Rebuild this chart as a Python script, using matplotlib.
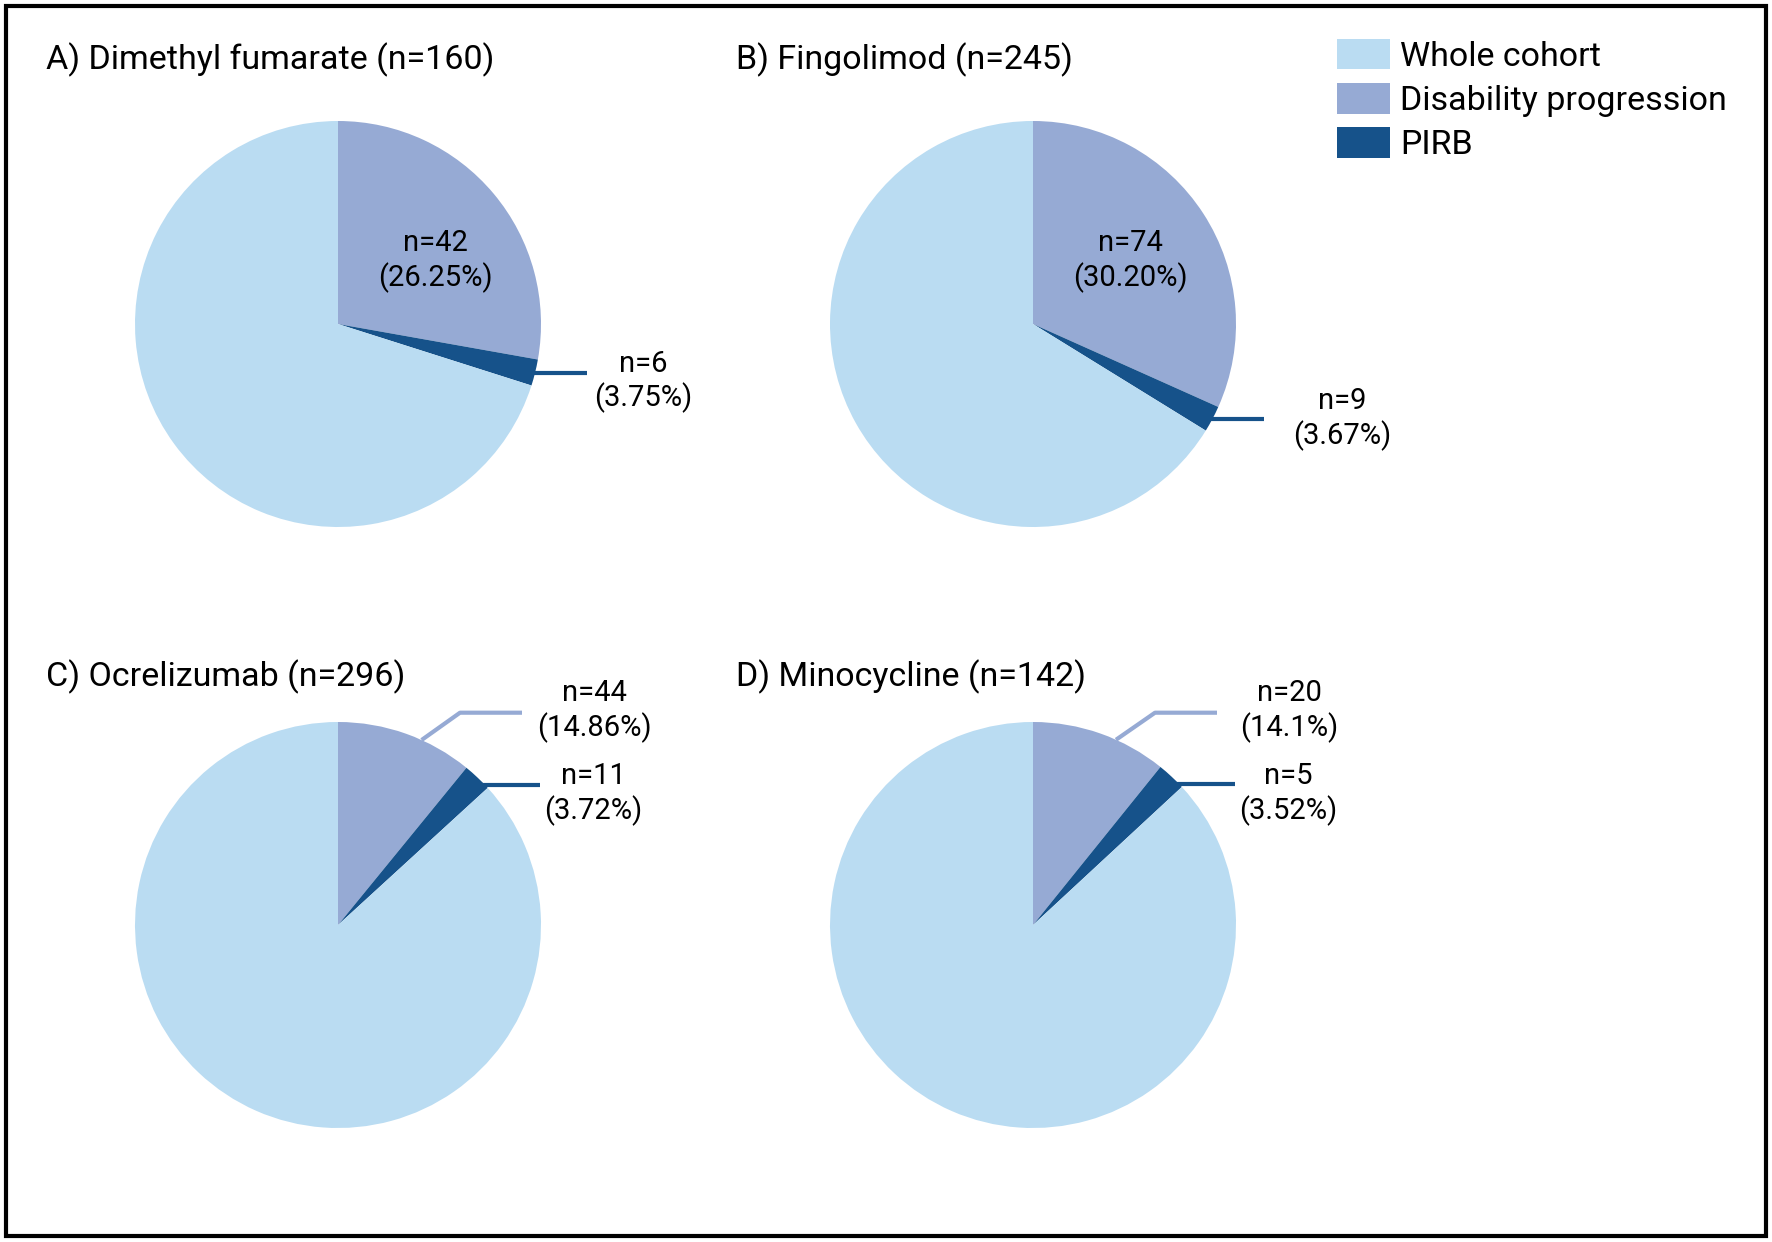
import numpy as np
import matplotlib.pyplot as plt
from matplotlib.patches import Rectangle

plt.rcParams['font.family'] = ['Roboto', 'DejaVu Sans']

# panel titles and counts
titles = ['A) Dimethyl fumarate (n=160)', 'B) Fingolimod (n=245)',
          'C) Ocrelizumab (n=296)', 'D) Minocycline (n=142)']
dp_n = [42, 74, 44, 20]
dp_pct = ['26.25%', '30.20%', '14.86%', '14.1%']
pirb_n = [6, 9, 11, 5]
pirb_pct = ['3.75%', '3.67%', '3.72%', '3.52%']
# wedge shares as drawn in the figure (percent of circle)
dp_share = [27.8, 31.7, 10.9, 10.8]
pirb_share = [2.1, 2.1, 2.3, 2.3]
legend_labels = ['Whole cohort', 'Disability progression', 'PIRB']

c_whole = '#badcf2'
c_dp = '#96aad4'
c_pirb = '#16528a'

W, H = 1772, 1242
fig = plt.figure(figsize=(W / 100, H / 100), dpi=100)
ax = fig.add_axes([0, 0, 1, 1])

centers = [(338, 324), (1033, 324), (338, 925), (1033, 925)]
R = 203
title_pos = [(46, 60), (736, 60), (46, 677), (736, 677)]
pirb_text_dx = [108, 130]
pirb_text_dy = [-9, 0]
lab_fs = 21

wedges_a = None
for i in range(4):
    cx, cy = centers[i]
    Y = H - cy
    vals = [dp_share[i], pirb_share[i], 100 - dp_share[i] - pirb_share[i]]
    wedges, _ = ax.pie(vals, colors=[c_dp, c_pirb, c_whole], startangle=90,
                       counterclock=False, center=(cx, Y), radius=R, frame=True,
                       wedgeprops=dict(linewidth=0))
    if wedges_a is None:
        wedges_a = wedges
    tx, ty = title_pos[i]
    ax.text(tx, H - ty, titles[i], fontsize=24.5, ha='left', va='center')

    # angles of wedges
    a_dp_mid = 90 - dp_share[i] * 3.6 / 2
    a_pirb_mid = 90 - dp_share[i] * 3.6 - pirb_share[i] * 3.6 / 2
    a_pirb_end = 90 - (dp_share[i] + pirb_share[i]) * 3.6

    if i < 2:
        # inner label for disability progression
        ax.text(cx + 97, Y + 63, f'n={dp_n[i]}\n({dp_pct[i]})', fontsize=lab_fs,
                ha='center', va='center', linespacing=1.2)
        # PIRB leader
        px = cx + R * np.cos(np.radians(a_pirb_mid))
        py = Y + R * np.sin(np.radians(a_pirb_mid))
        ax.plot([px - 3, px + 52], [py, py], color=c_pirb, lw=3,
                solid_capstyle='butt')
        ax.text(px + pirb_text_dx[i], py + pirb_text_dy[i],
                f'n={pirb_n[i]}\n({pirb_pct[i]})',
                fontsize=lab_fs, ha='center', va='center', linespacing=1.2)
    else:
        # disability progression leader with elbow
        sx = cx + R * np.cos(np.radians(a_dp_mid - 4.7))
        sy = Y + R * np.sin(np.radians(a_dp_mid - 4.7))
        ex, ey = cx + 122, H - 712.7
        ax.plot([sx, ex, ex + 62], [sy, ey, ey], color=c_dp, lw=3,
                solid_capstyle='butt')
        ax.text(cx + 256, H - 711, f'n={dp_n[i]}\n({dp_pct[i]})', fontsize=lab_fs,
                ha='center', va='center', linespacing=1.2)
        # PIRB leader
        px = cx + R * np.cos(np.radians(a_pirb_end + 1))
        py = Y + R * np.sin(np.radians(a_pirb_end + 1))
        ax.plot([px - 3, cx + 202], [py, py], color=c_pirb, lw=3,
                solid_capstyle='butt')
        ax.text(cx + 255, H - 794, f'n={pirb_n[i]}\n({pirb_pct[i]})',
                fontsize=lab_fs, ha='center', va='center', linespacing=1.2)

ax.set_xlim(0, W)
ax.set_ylim(0, H)
ax.set_aspect('equal')
ax.axis('off')

# legend
handles = [wedges_a[2], wedges_a[0], wedges_a[1]]
fig.legend(handles, legend_labels, loc='upper left',
           bbox_to_anchor=(1337 / W, 1 - 39 / H), frameon=False, fontsize=24.5,
           handlelength=1.55, handleheight=1.0, labelspacing=0.3,
           handletextpad=0.3, borderpad=0, borderaxespad=0)

# outer border
fig.patches.append(Rectangle((6 / W, 6 / H), (W - 12) / W, (H - 12) / H,
                             transform=fig.transFigure, fill=False,
                             edgecolor='black', linewidth=3))

fig.savefig('out.png', dpi=100)
